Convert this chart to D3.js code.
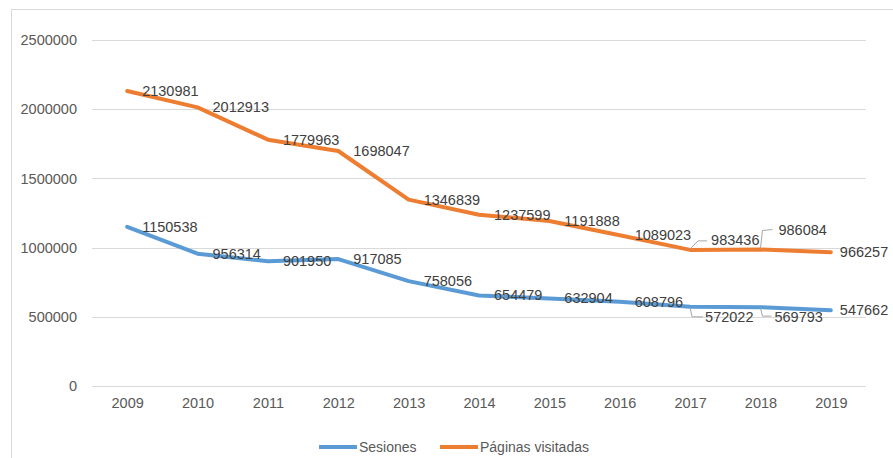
<!DOCTYPE html>
<html>
<head>
<meta charset="utf-8">
<script src="https://cdn.jsdelivr.net/npm/d3@7"></script>
<style>
  html, body { margin: 0; padding: 0; background: #fff; }
  svg { display: block; font-family: "Liberation Sans", Arial, sans-serif; }
</style>
</head>
<body>
<svg id="chart" width="893" height="458"></svg>
<script>
const years = ["2009","2010","2011","2012","2013","2014","2015","2016","2017","2018","2019"];
const sesiones = [1150538, 956314, 901950, 917085, 758056, 654479, 632904, 608796, 572022, 569793, 547662];
const paginas = [2130981, 2012913, 1779963, 1698047, 1346839, 1237599, 1191888, 1089023, 983436, 986084, 966257];
const yTicks = [0, 500000, 1000000, 1500000, 2000000, 2500000];
const seriesNames = ["Sesiones", "Páginas visitadas"];

const colors = ["#5B9BD5", "#ED7D31"];
const svg = d3.select("#chart");

// chart frame
svg.append("rect").attr("x", 11.5).attr("y", 9.5).attr("width", 900).attr("height", 470)
  .attr("fill", "#fff").attr("stroke", "#d9d9d9").attr("stroke-width", 1);

const x = d3.scalePoint().domain(years).range([92, 866]).padding(0.5);
const y = d3.scaleLinear().domain([0, 2500000]).range([386, 40]);

// gridlines
svg.append("g").selectAll("line").data(yTicks).join("line")
  .attr("x1", 92).attr("x2", 866)
  .attr("y1", d => Math.round(y(d)) + 0.5).attr("y2", d => Math.round(y(d)) + 0.5)
  .attr("stroke", "#d9d9d9").attr("stroke-width", 1);

// y axis labels
const yAxis = d3.axisLeft(y).tickValues(yTicks).tickSize(0).tickPadding(0).tickFormat(d3.format("d"));
const gy = svg.append("g").attr("transform", "translate(77,0)").call(yAxis);
gy.select(".domain").remove();
gy.selectAll("text").attr("fill", "#595959").style("font-size", "14.5px")
  .style("font-family", "Liberation Sans, Arial, sans-serif");

// x axis labels
const xAxis = d3.axisBottom(x).tickSize(0).tickPadding(0);
const gx = svg.append("g").attr("transform", "translate(0,398)").call(xAxis);
gx.select(".domain").remove();
gx.selectAll("text").attr("fill", "#595959").style("font-size", "14.5px")
  .style("font-family", "Liberation Sans, Arial, sans-serif");

const allSeries = [sesiones, paginas];
const line = d3.line().x((d, i) => x(years[i])).y(d => y(d));

allSeries.forEach((vals, si) => {
  svg.append("path").datum(vals)
    .attr("d", line)
    .attr("fill", "none").attr("stroke", colors[si]).attr("stroke-width", 4)
    .attr("stroke-linejoin", "round").attr("stroke-linecap", "round");
});

// label placement (offsets from the point, in px) for crowded labels with leader lines
function placement(si, i) {
  if (si === 1 && i === 8) return {dx: 21, dy: -10, leader: [[0,-1],[8,-9],[17,-9]]};
  if (si === 1 && i === 9) return {dx: 18, dy: -20, leader: [[0,-1],[2,-19],[12,-20]]};
  if (si === 0 && i === 8) return {dx: 15, dy: 10, leader: [[0,1],[2,10],[13,10]]};
  if (si === 0 && i === 9) return {dx: 14, dy: 10, leader: [[0,1],[2,9],[11,9]]};
  if (i === years.length - 1) return {dx: 9, dy: 0};
  return {dx: 15, dy: 0};
}

allSeries.forEach((vals, si) => {
  const g = svg.append("g");
  vals.forEach((v, i) => {
    const px = x(years[i]), py = y(v);
    const p = placement(si, i);
    if (p.leader) {
      g.append("path")
        .attr("d", d3.line()(p.leader.map(q => [px + q[0], py + q[1]])))
        .attr("fill", "none").attr("stroke", "#a6a6a6").attr("stroke-width", 1);
    }
    g.append("text")
      .attr("x", px + p.dx).attr("y", py + p.dy)
      .attr("dominant-baseline", "central")
      .attr("fill", "#404040").style("font-size", "14.5px")
      .text(v);
  });
});

// legend
const legend = svg.append("g");
const legendX = [319, 440];
seriesNames.forEach((name, si) => {
  legend.append("line")
    .attr("x1", legendX[si]).attr("x2", legendX[si] + 38)
    .attr("y1", 447).attr("y2", 447)
    .attr("stroke", colors[si]).attr("stroke-width", 4);
  legend.append("text")
    .attr("x", legendX[si] + 40).attr("y", 447)
    .attr("dominant-baseline", "central")
    .attr("fill", "#595959").style("font-size", "14px")
    .text(name);
});
</script>
</body>
</html>
